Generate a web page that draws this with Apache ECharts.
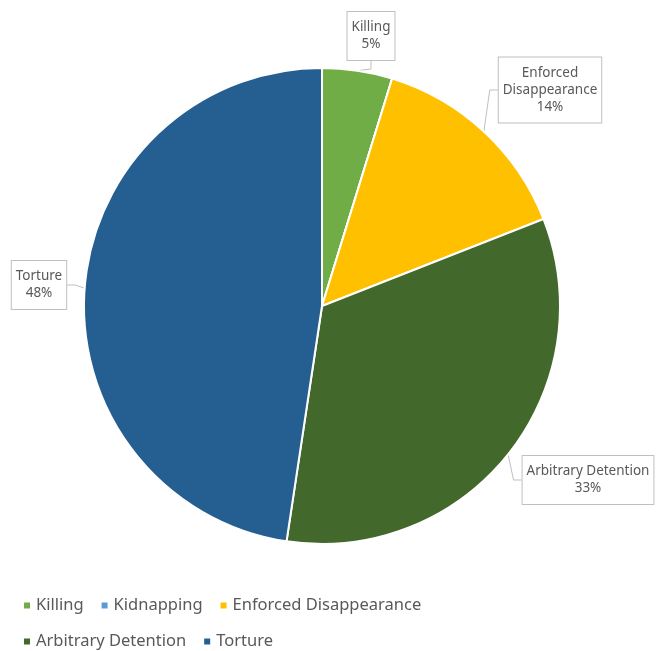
<!DOCTYPE html>
<html><head><meta charset="utf-8">
<script src="https://cdn.jsdelivr.net/npm/echarts@6/dist/echarts.min.js"></script>
<style>html,body{margin:0;padding:0;background:#fff}#c{width:658px;height:651px}</style>
</head><body><div id="c"></div>
<script>
const categories = ['Killing', 'Kidnapping', 'Enforced Disappearance', 'Arbitrary Detention', 'Torture'];
const values = [10, 0, 30, 70, 100];
const colors = ['#70AD47', '#5B9BD5', '#FFC000', '#43682B', '#255E91'];
const legendRow1 = ['Killing', 'Kidnapping', 'Enforced Disappearance'];
const legendRow2 = ['Arbitrary Detention', 'Torture'];
const labelNames = ['Killing', 'Kidnapping', 'Enforced\nDisappearance', 'Arbitrary Detention', 'Torture'];

const total = values.reduce((a, b) => a + b, 0);
const labelPos = {
  0: {x: 371, y: 36},
  2: {x: 550, y: 90},
  3: {x: 588, y: 480},
  4: {x: 39, y: 285}
};
const chart = echarts.init(document.getElementById('c'));
const legendText = {fontFamily: 'Noto Sans', fontSize: 16.5, color: '#595959'};
chart.setOption({
  animation: false,
  legend: [
    {data: legendRow1, left: 17, top: 592, icon: 'rect', itemWidth: 8, itemHeight: 8, itemGap: 16, textStyle: legendText, selectedMode: false},
    {data: legendRow2, left: 17, top: 628, icon: 'rect', itemWidth: 8, itemHeight: 8, itemGap: 16, textStyle: legendText, selectedMode: false}
  ],
  series: [{
    type: 'pie',
    center: [322, 306],
    radius: 238,
    startAngle: 90,
    clockwise: true,
    avoidLabelOverlap: false,
    itemStyle: {borderColor: '#fff', borderWidth: 2},
    label: {
      show: true,
      position: 'outside',
      fontFamily: 'Noto Sans',
      fontSize: 13.5,
      lineHeight: 17,
      color: '#595959',
      align: 'center',
      backgroundColor: '#fff',
      borderColor: '#BFBFBF',
      borderWidth: 1,
      padding: [7, 4, 7, 4],
      formatter: p => labelNames[p.dataIndex] + '\n' + Math.round(p.value / total * 100) + '%'
    },
    labelLine: {show: true, length: 8, length2: 8, lineStyle: {color: '#BFBFBF', width: 1}},
    labelLayout: function (params) {
      const pos = labelPos[params.dataIndex];
      if (!pos) return {};
      return {x: pos.x, y: pos.y, align: 'center', verticalAlign: 'middle'};
    },
    data: categories.map((n, i) => ({
      name: n,
      value: values[i],
      itemStyle: {color: colors[i]},
      label: values[i] === 0 ? {show: false} : undefined,
      labelLine: values[i] === 0 ? {show: false} : undefined
    }))
  }]
});
</script></body></html>
